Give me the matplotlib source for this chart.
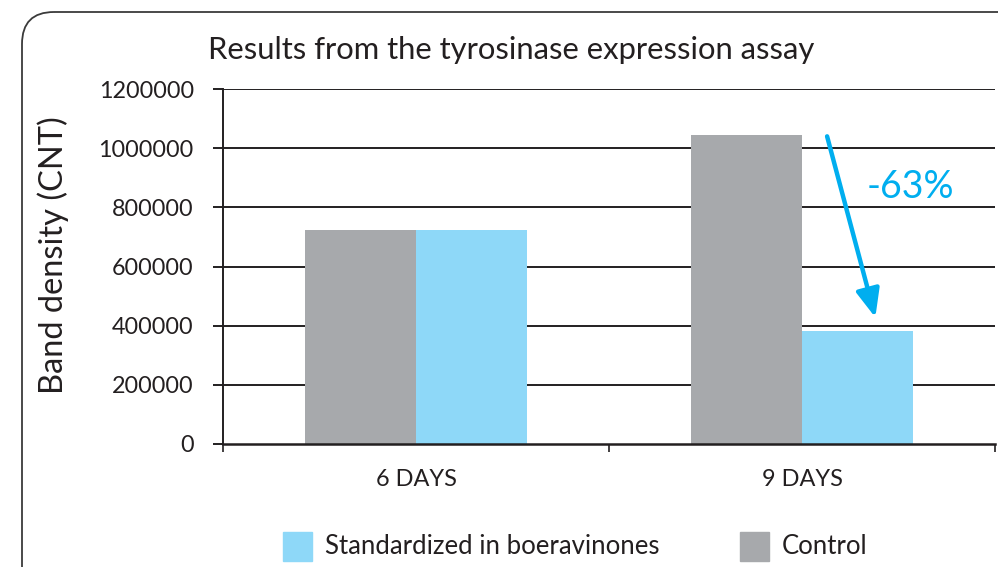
import matplotlib
matplotlib.use("Agg")
import matplotlib.pyplot as plt
from matplotlib.patches import FancyBboxPatch, FancyArrowPatch
import numpy as np

plt.rcParams['font.family'] = ['Lato', 'DejaVu Sans']

categories = ["6 DAYS", "9 DAYS"]
control = [722000, 1045000]
standardized = [722000, 383000]
series_names = ["Standardized in boeravinones", "Control"]
yticks = [0, 200000, 400000, 600000, 800000, 1000000, 1200000]
title = "Results from the tyrosinase expression assay"
ylabel = "Band density (CNT)"

GRAY = "#a7a9ac"
BLUE = "#8ed8f8"
ARROW = "#00aeef"
INK = "#231f20"

W, H = 998, 567
fig = plt.figure(figsize=(W / 100, H / 100), dpi=100)

# background frame (pixel coordinates)
bg = fig.add_axes([0, 0, 1, 1])
bg.set_xlim(0, W)
bg.set_ylim(H, 0)
bg.axis("off")
frame = FancyBboxPatch((22, 12), 1200, 800, boxstyle="round,pad=0,rounding_size=32",
                       fill=False, edgecolor="#3a3a3a", linewidth=1.3)
bg.add_patch(frame)

ax = fig.add_axes([223 / W, 1 - 444 / H, (995 - 223) / W, (444 - 89) / H])
x = np.arange(len(categories))
bw = 0.288
ax.bar(x - bw / 2, control, width=bw, color=GRAY, zorder=3)
ax.bar(x + bw / 2, standardized, width=bw, color=BLUE, zorder=3)

ax.set_xlim(-0.5, len(categories) - 0.5)
ax.set_ylim(0, 1200000)
ax.set_yticks(yticks)
ax.set_yticklabels([str(v) for v in yticks], fontsize=16.8, color=INK)
for v in yticks[1:]:
    ax.axhline(v, color=INK, linewidth=1.4, zorder=1)

ax.set_xticks(np.arange(-0.5, len(categories)), labels=[""] * (len(categories) + 1))
ax.set_xticks(x, labels=categories, minor=True)
ax.tick_params(axis="x", which="major", length=6, width=1.2, color=INK, direction="out")
ax.tick_params(axis="x", which="minor", length=0, pad=18, labelsize=16.9, labelcolor=INK)
ax.tick_params(axis="y", length=7, width=1.4, color=INK, pad=14)

for s in ["top", "right"]:
    ax.spines[s].set_visible(False)
ax.spines["left"].set_color(INK)
ax.spines["left"].set_linewidth(1.4)
ax.spines["bottom"].set_color(INK)
ax.spines["bottom"].set_linewidth(1.8)
ax.spines["bottom"].set_zorder(4)

fig.text(53 / W, 1 - 255 / H, ylabel, fontsize=23.5, color=INK, rotation=90,
         ha="center", va="center")
fig.text(208 / W, 1 - 50 / H, title, fontsize=22.3, color=INK, ha="left", va="center")

# arrow showing reduction
i = 1
start = (x[i] + 0.065, control[i] - 5000)
end = (x[i] + 0.19, standardized[i] + 45000)
arr = FancyArrowPatch(start, end, arrowstyle="-|>,head_length=0.85,head_width=0.36",
                      mutation_scale=20, color=ARROW, linewidth=3.2, zorder=5,
                      shrinkA=0, shrinkB=0)
ax.add_patch(arr)
pct = round((1 - standardized[i] / control[i]) * 100)
ax.text(x[i] + 0.28, 870000, f"-{pct}%", fontsize=27, color=ARROW, ha="center", va="center", zorder=5)

# legend
for px, col, name in [(283, BLUE, series_names[0]), (740, GRAY, series_names[1])]:
    bg.add_patch(plt.Rectangle((px, 532), 29, 29, color=col))
    bg.text(px + 42, 547, name, fontsize=18.5, color=INK, ha="left", va="center")

fig.savefig("out.png", dpi=100)
